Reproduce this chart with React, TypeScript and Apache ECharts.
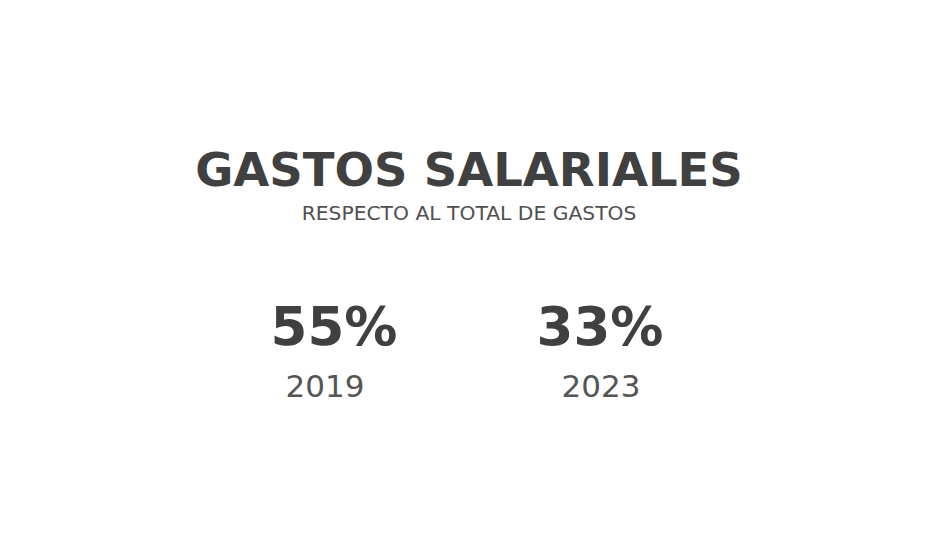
import React, { useEffect, useRef } from "react";
import * as echarts from "echarts";

const titleText = "GASTOS SALARIALES";
const subtitleText = "RESPECTO AL TOTAL DE GASTOS";
const years = ["2019", "2023"];
const values = [55, 33];

export default function App() {
  const ref = useRef<HTMLDivElement>(null);
  useEffect(() => {
    if (!ref.current) return;
    const chart = echarts.init(ref.current, undefined, { renderer: "svg" });
    const centersX = [334, 600];
    const yearCentersX = [325, 601];
    const graphic: any[] = [
      {
        type: "text",
        x: 469,
        y: 170,
        style: {
          text: titleText,
          fontFamily: "DejaVu Sans",
          fontWeight: "bold",
          fontSize: 46.5,
          fill: "#404040",
          align: "center",
          verticalAlign: "middle",
        },
      },
      {
        type: "text",
        x: 469,
        y: 213,
        style: {
          text: subtitleText,
          fontFamily: "DejaVu Sans",
          fontSize: 20.3,
          fill: "#505050",
          align: "center",
          verticalAlign: "middle",
        },
      },
    ];
    values.forEach((v, i) => {
      graphic.push({
        type: "text",
        x: centersX[i],
        y: 326,
        style: {
          text: v + "%",
          fontFamily: "DejaVu Sans",
          fontWeight: "bold",
          fontSize: 53,
          fill: "#404040",
          align: "center",
          verticalAlign: "middle",
        },
      });
      graphic.push({
        type: "text",
        x: yearCentersX[i],
        y: 386,
        style: {
          text: years[i],
          fontFamily: "DejaVu Sans",
          fontSize: 31,
          fill: "#555555",
          align: "center",
          verticalAlign: "middle",
        },
      });
    });
    chart.setOption({
      animation: false,
      backgroundColor: "#ffffff",
      graphic,
    });
    return () => chart.dispose();
  }, []);
  return (
    <div
      ref={ref}
      style={{ position: "fixed", left: 0, top: 0, width: 947, height: 537 }}
    />
  );
}
